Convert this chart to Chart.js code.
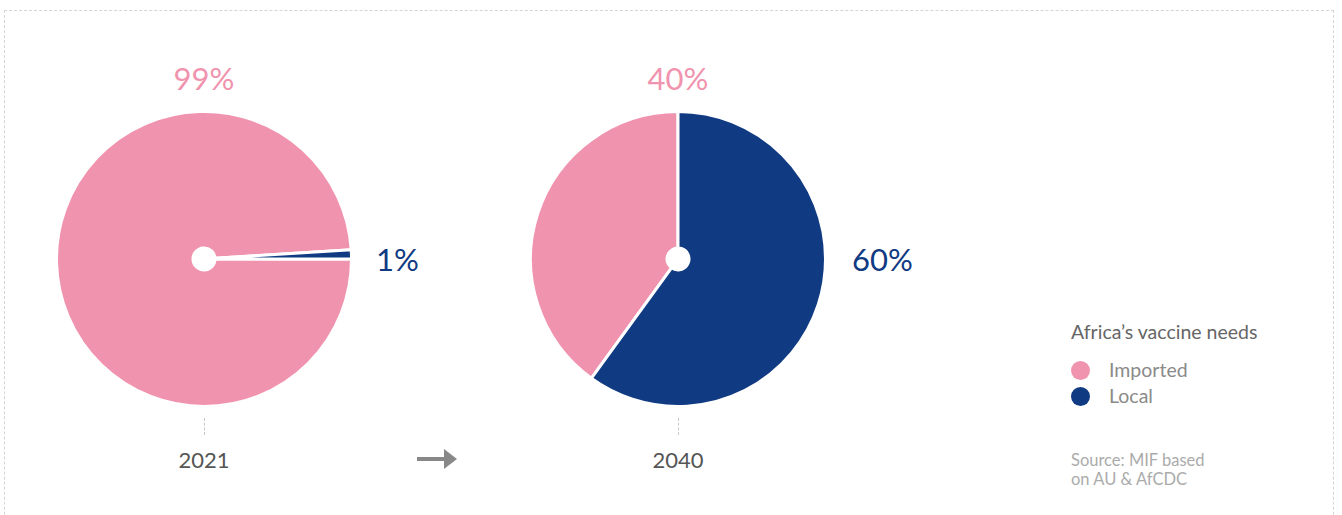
<!DOCTYPE html>
<html>
<head>
<meta charset="utf-8">
<script src="https://cdn.jsdelivr.net/npm/chart.js@4"></script>
<style>
  body { margin: 0; width: 1342px; height: 515px; background: #fff; font-family: Lato, "Open Sans", sans-serif; overflow: hidden; position: relative; }
  .frame { position: absolute; left: 4px; top: 10px; width: 1330px; height: 600px; border: 1px dashed #d4d4d4; box-sizing: border-box; }
  .pie { position: absolute; width: 298px; height: 298px; }
  .pct { position: absolute; font-size: 31px; line-height: 32px; white-space: nowrap; }
  .year { position: absolute; font-size: 22px; color: #555; transform: translateX(-50%); line-height: 22px; }
  .tick { position: absolute; width: 0; height: 17px; border-left: 1px dashed #c8c8c8; }
  .legend { position: absolute; left: 1071px; top: 321px; }
  .legend .title { font-size: 19.5px; color: #666; line-height: 22px; white-space: nowrap; }
  .legend .item { font-size: 19.5px; color: #8a8a8a; line-height: 26px; position: relative; padding-left: 38px; }
  .legend .dot { position: absolute; left: 0; top: 4px; width: 19px; height: 19px; border-radius: 50%; }
  .source { position: absolute; left: 1071px; top: 451px; font-size: 16.5px; color: #ababab; line-height: 19px; white-space: nowrap; }
</style>
</head>
<body>
<div class="frame"></div>

<script>
var years = ['2021', '2040'];
var categories = ['Imported', 'Local'];
var imported = [99, 40];
var local = [1, 60];
var colors = ['#F093AE', '#103A82'];

// layout per pie: centre, start angle
var centres = [[204, 259], [678, 259]];
var rotations = [90, 216];
var localLabelX = [376, 852];

years.forEach(function (year, i) {
  var cx = centres[i][0], cy = centres[i][1];

  var wrap = document.createElement('div');
  wrap.className = 'pie';
  wrap.style.left = (cx - 149) + 'px';
  wrap.style.top = (cy - 149) + 'px';
  var canvas = document.createElement('canvas');
  canvas.width = 298;
  canvas.height = 298;
  wrap.appendChild(canvas);
  document.body.appendChild(wrap);

  new Chart(canvas.getContext('2d'), {
    type: 'doughnut',
    data: {
      labels: categories,
      datasets: [{
        data: [imported[i], local[i]],
        backgroundColor: colors,
        borderColor: '#fff',
        borderWidth: 3
      }]
    },
    options: {
      responsive: false,
      animation: false,
      cutout: 11,
      rotation: rotations[i],
      layout: { padding: 0 },
      plugins: { legend: { display: false }, tooltip: { enabled: false } }
    }
  });

  // percentage labels
  var top = document.createElement('div');
  top.className = 'pct';
  top.style.color = colors[0];
  top.style.left = cx + 'px';
  top.style.top = '62px';
  top.style.transform = 'translateX(-50%)';
  top.textContent = imported[i] + '%';
  document.body.appendChild(top);

  var side = document.createElement('div');
  side.className = 'pct';
  side.style.color = colors[1];
  side.style.left = localLabelX[i] + 'px';
  side.style.top = (cy - 16) + 'px';
  side.textContent = local[i] + '%';
  document.body.appendChild(side);

  var tick = document.createElement('div');
  tick.className = 'tick';
  tick.style.left = cx + 'px';
  tick.style.top = '418px';
  document.body.appendChild(tick);

  var y = document.createElement('div');
  y.className = 'year';
  y.style.left = cx + 'px';
  y.style.top = '449px';
  y.textContent = year;
  document.body.appendChild(y);
});
</script>

<svg style="position:absolute;left:415px;top:447px" width="44" height="24">
  <line x1="2" y1="12" x2="30" y2="12" stroke="#888" stroke-width="4"/>
  <polygon points="29,2 42,12 29,22" fill="#888"/>
</svg>

<div class="legend">
  <div class="title">Africa’s vaccine needs</div>
  <div style="height:14px"></div>
  <div class="item"><span class="dot" style="background:#F093AE"></span>Imported</div>
  <div class="item"><span class="dot" style="background:#103A82"></span>Local</div>
</div>
<div class="source">Source: MIF based<br>on AU &amp; AfCDC</div>
</body>
</html>
